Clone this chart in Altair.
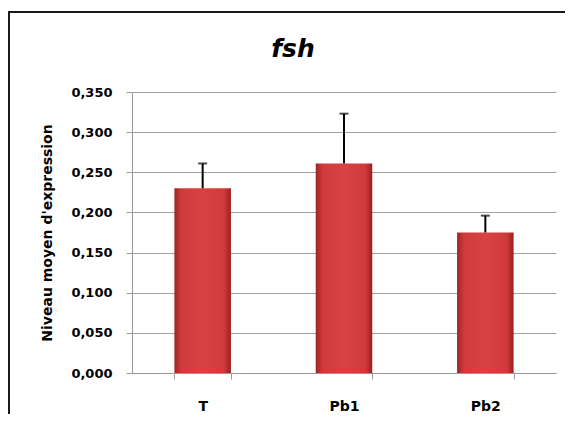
import altair as alt
import pandas as pd

categories = ["T", "Pb1", "Pb2"]
means = [0.230, 0.261, 0.175]
errors = [0.031, 0.062, 0.021]
y_ticks = [0.0, 0.05, 0.10, 0.15, 0.20, 0.25, 0.30, 0.35]
title_text = ["fsh"]

df = pd.DataFrame({"cat": categories, "mean": means, "err": errors})
df["upper"] = df["mean"] + df["err"]

FONT = "DejaVu Sans"

x_enc = alt.X(
    "cat:N",
    sort=categories,
    scale=alt.Scale(paddingInner=0.6, paddingOuter=0.3),
    axis=alt.Axis(
        title=None,
        labelAngle=0,
        labelFont=FONT,
        labelFontWeight="bold",
        labelFontSize=14,
        labelColor="#000000",
        labelPadding=20,
        tickBand="extent",
        tickSize=6,
        tickColor="#999999",
        domainColor="#999999",
        grid=False,
    ),
)

y_scale = alt.Scale(domain=[0, 0.35], nice=False)

bar_fill = alt.Gradient(
    gradient="linear",
    x1=0, x2=1, y1=0, y2=0,
    stops=[
        alt.GradientStop(color="#9E2424", offset=0),
        alt.GradientStop(color="#CF3A3A", offset=0.12),
        alt.GradientStop(color="#D84242", offset=0.5),
        alt.GradientStop(color="#CF3A3A", offset=0.88),
        alt.GradientStop(color="#992020", offset=1),
    ],
)

bars = alt.Chart(df).mark_bar(color=bar_fill).encode(
    x=x_enc,
    y=alt.Y(
        "mean:Q",
        scale=y_scale,
        axis=alt.Axis(
            title="Niveau moyen d'expression",
            titleFont=FONT,
            titleFontWeight="bold",
            titleFontSize=14,
            titleColor="#000000",
            titlePadding=16,
            values=y_ticks,
            labelExpr="replace(format(datum.value, '.3f'), '.', ',')",
            labelFont=FONT,
            labelFontWeight="bold",
            labelFontSize=13,
            labelColor="#000000",
            labelPadding=14,
            tickSize=6,
            tickColor="#999999",
            domainColor="#999999",
            gridColor="#A0A0A0",
            gridWidth=1,
        ),
    ),
)

err_rule = alt.Chart(df).mark_rule(color="#000000", strokeWidth=2).encode(
    x=alt.X("cat:N", sort=categories),
    y=alt.Y("mean:Q", scale=y_scale),
    y2="upper:Q",
)

err_cap = alt.Chart(df).mark_tick(color="#000000", size=9, thickness=2).encode(
    x=alt.X("cat:N", sort=categories),
    y=alt.Y("upper:Q", scale=y_scale),
)

title_df = pd.DataFrame({"t": title_text})
title_mark = alt.Chart(title_df).mark_text(
    font=FONT,
    fontSize=25,
    fontWeight="bold",
    fontStyle="italic",
    color="#000000",
    align="center",
    baseline="alphabetic",
).encode(x=alt.value(161), y=alt.value(-35), text="t:N")

frame_df = pd.DataFrame({"k": [0]})
frame_left = alt.Chart(frame_df).mark_rule(color="#1A1A1A", strokeWidth=2).encode(
    x=alt.value(-123), y=alt.value(-80), y2=alt.value(360)
)
frame_top = alt.Chart(frame_df).mark_rule(color="#1A1A1A", strokeWidth=2).encode(
    x=alt.value(-124), x2=alt.value(433), y=alt.value(-80)
)

chart = (
    alt.layer(bars, err_rule, err_cap, title_mark, frame_left, frame_top)
    .properties(
        width=424,
        height=281,
        autosize=alt.AutoSizeParams(type="none"),
        padding={"left": 124, "top": 84, "right": 9, "bottom": 41},
        background="#FFFFFF",
    )
    .configure_view(stroke=None)
)

chart.save("out.html", embed_options={"renderer": "svg", "actions": False})
